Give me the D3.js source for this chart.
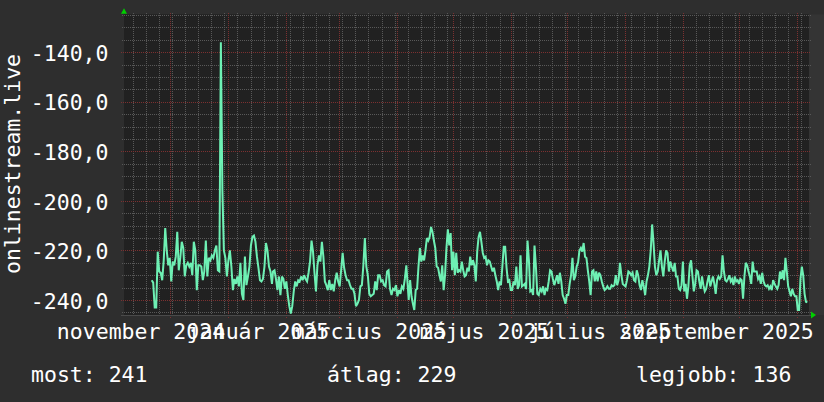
<!DOCTYPE html>
<html><head><meta charset="utf-8">
<script src="https://cdn.jsdelivr.net/npm/d3@7"></script>
<style>html,body{margin:0;padding:0;background:#2e2e2e;} svg{display:block}</style>
</head><body><svg id="c" width="824" height="402"></svg>
<script>
// ---------------- data ----------------
const seriesName = "onlinestream.live";
const timeDomain = ["2024-11-06T10:00Z", "2025-11-07T07:00Z"];
const valueDomain = [-246.05, -124.7];

const seg1Range = ["2024-11-21T05:05Z", "2025-01-24T11:00Z"];
const seg1 = [-232,-233,-243,-243,-220.5,-228.5,-229,-232,-224,-211,
  -220,-226,-223,-232.5,-224.5,-226,-222.5,-212.5,-228,-223,
  -216.5,-219,-230.5,-226,-225,-226.5,-225,-230,-216.5,-220,
  -236,-226,-226,-226.5,-232,-228.5,-216,-230.5,-223,-224,
  -222,-223,-220,-218,-228,-228.5,-136,-195.5,-220,-223,
  -230.5,-224,-220,-226.5,-236,-231.5,-233.5,-230.5,-234.5,-225,
  -237.5,-240,-222.5,-234,-230.5,-226.5,-218,-214.5,-214,-216.5,
  -222.5,-227,-232,-232.5,-231.5,-226.5,-217,-220,-226.5,-228.5,
  -233.5];

const seg2Range = ["2025-01-25T00:10Z", "2025-04-06T05:00Z"];
const seg2 = [-228.5,-228,-231.5,-236,-230.5,-238,-230.5,-231.5,-235.5,-232.5,
  -238,-242.5,-245.5,-242.5,-236.5,-232.5,-234.5,-232,-232.5,-230.5,
  -232,-230,-231.5,-232.5,-229,-224.5,-216,-220.5,-229,-236.5,
  -226,-222,-224.5,-216.5,-222.5,-232.5,-234,-236,-232,-236,
  -233.5,-236.5,-232,-229,-232.5,-234.5,-228,-221,-227,-230,
  -232,-232,-234,-235.5,-235.5,-237.5,-242.5,-241.5,-240,-234.5,
  -234,-226,-215,-226.5,-230,-237.5,-238.5,-238,-237.5,-232.5,
  -236,-230,-230,-232.5,-232,-234,-234.5,-228.5,-228,-235.5,
  -238,-235.5,-236,-234,-238.5,-236,-237.5,-234.5,-235.5,-231.5,
  -226];

const seg3Range = ["2025-04-07T11:40Z", "2025-06-15T22:00Z"];
const seg3 = [-240,-232,-238.5,-241.5,-244,-236,-235.5,-226.5,-219,-224.5,
  -222,-224,-220,-215,-216,-214.5,-210.5,-212.5,-216,-219,
  -226.5,-227,-230,-232.5,-226,-236,-230,-219,-211.5,-218,
  -213,-228,-220.5,-230,-221,-229,-228,-228.5,-224.5,-228,
  -230.5,-230,-227,-228.5,-222.5,-226,-224,-226,-232.5,-220.5,
  -214.5,-212.5,-216.5,-221,-223,-222.5,-226,-224,-224.5,-226.5,
  -228.5,-227,-230,-232.5,-236,-232.5,-234,-226.5,-218.5,-218.5,
  -227,-232.5,-232,-236,-236,-232.5,-234,-226.5,-235.5,-234,
  -222,-234.5,-234,-233.5,-235.5,-216,-224,-236.5,-236,-238,
  -218,-226.5,-237.5,-238];

const seg4Range = ["2025-06-16T18:40Z", "2025-08-25T23:00Z"];
const seg4 = [-235.5,-236.5,-234.5,-238,-235.5,-236,-232.5,-228,-228.5,-231.5,
  -234,-232,-230,-233.5,-229,-232.5,-238,-239.5,-241.5,-238,
  -238,-233.5,-230,-223,-232,-230.5,-226.5,-225,-220,-219,
  -220.5,-217,-222.5,-223,-228,-232.5,-238,-228.5,-228,-232.5,
  -228.5,-232.5,-229,-230,-232.5,-234.5,-236,-235.5,-234.5,-235.5,
  -235.5,-234,-234.5,-234,-230,-234,-232,-225,-230,-233.5,
  -234,-234.5,-232,-228.5,-229,-230,-229,-232,-232.5,-228,
  -230,-234,-236,-232,-234.5,-238,-232.5,-230,-226.5,-220,
  -209.5,-217,-226.5,-230,-228.5,-224,-220,-226.5,-230.5,-224.5,
  -220,-221,-228.5,-224.5,-226.5];

const seg5Range = ["2025-08-26T19:40Z", "2025-11-06T09:20Z"];
const seg5 = [-228.5,-225,-230.5,-230.5,-235.5,-236,-234,-224.5,-236.5,-233.5,
  -239.5,-234.5,-226,-224,-230.5,-236.5,-233.5,-228,-228.5,-232.5,
  -235.5,-230.5,-234,-236.5,-235.5,-232.5,-230,-234.5,-232.5,-230.5,
  -233.5,-237.5,-232,-230.5,-231.5,-230.5,-222,-228.5,-232,-232.5,
  -231.5,-230,-232.5,-231.5,-234,-230.5,-232.5,-232,-233.5,-231.5,
  -232,-239.5,-230.5,-225,-226,-228.5,-230.5,-233.5,-224.5,-228.5,
  -228.5,-228.5,-231.5,-230.5,-233.5,-229,-232.5,-234,-234.5,-234,
  -235.5,-234.5,-236,-232,-233.5,-234.5,-235.5,-234,-228.5,-231.5,
  -228,-232,-223,-228.5,-234.5,-236.5,-238.5,-235.5,-237.5,-238.5,
  -238.5,-244,-244,-231.5,-226.5,-230,-237.5,-240.7,-241];

const yTickValues = [-240, -220, -200, -180, -160, -140];
const xLabelDates = ["2024-11-15T12:00Z", "2025-01-17T00:00Z", "2025-03-17T12:00Z", "2025-05-18T00:00Z", "2025-07-18T12:00Z", "2025-09-19T00:00Z"];
const xLabelTexts = ["november 2024", "január 2025", "március 2025", "május 2025", "július 2025", "szeptember 2025"];
const legendNames = ["most:", "átlag:", "legjobb:"];
const legendValues = [241, 229, 136];

// ---------------- drawing ----------------
const W = 824, H = 402;
const L = 124, R = 809, T = 14.3, B = 315;
const FONT = "'DejaVu Sans Mono', monospace";
const FS = 21.5;

const svg = d3.select("#c");
svg.append("rect").attr("width", W).attr("height", H).attr("fill", "#2e2e2e");
svg.append("rect").attr("x", R).attr("y", T).attr("width", W - R).attr("height", B - T).attr("fill", "#343434");
svg.append("rect").attr("x", L).attr("y", T).attr("width", R - L).attr("height", B - T).attr("fill", "#212121");

const x = d3.scaleUtc().domain(timeDomain.map(d => new Date(d))).range([L, R]);
const y = d3.scaleLinear().domain(valueDomain).range([B, T]);

// grid
const g = svg.append("g").attr("shape-rendering", "crispEdges");
const minorCol = "#585858", majorCol = "#7c3030";
const [y0, y1] = valueDomain;
const hMinor = d3.range(Math.ceil(y0 / 5) * 5, y1, 5).filter(v => v % 20 !== 0);
const hMajor = d3.range(Math.ceil(y0 / 20) * 20, y1, 20);
g.selectAll(".hm").data(hMinor).join("line")
  .attr("x1", L - 2).attr("x2", R + 2)
  .attr("y1", d => Math.round(y(d)) + 0.5).attr("y2", d => Math.round(y(d)) + 0.5)
  .attr("stroke", minorCol).attr("stroke-dasharray", "1,1");
const weeks = d3.utcMonday.range(x.domain()[0], x.domain()[1]);
const months = d3.utcMonth.range(x.domain()[0], x.domain()[1]);
g.selectAll(".vm").data(weeks).join("line")
  .attr("x1", d => Math.round(x(d)) + 0.5).attr("x2", d => Math.round(x(d)) + 0.5)
  .attr("y1", T - 1).attr("y2", B + 2)
  .attr("stroke", minorCol).attr("stroke-dasharray", "1,1");
g.selectAll(".hM").data(hMajor).join("line")
  .attr("x1", L - 3).attr("x2", R + 2)
  .attr("y1", d => Math.round(y(d)) + 0.5).attr("y2", d => Math.round(y(d)) + 0.5)
  .attr("stroke", majorCol).attr("stroke-dasharray", "1,1");
g.selectAll(".vM").data(months).join("line")
  .attr("x1", d => Math.round(x(d)) + 0.5).attr("x2", d => Math.round(x(d)) + 0.5)
  .attr("y1", T - 1).attr("y2", B + 3)
  .attr("stroke", majorCol).attr("stroke-dasharray", "1,1");
// axis line
g.append("line").attr("x1", L - 3).attr("x2", R + 3).attr("y1", B + 0.5).attr("y2", B + 0.5).attr("stroke", "#4a4a4a");

// data
function segPoints(vals, range) {
  const t0 = new Date(range[0]).getTime(), t1 = new Date(range[1]).getTime();
  const n = vals.length;
  return vals.map((v, i) => ({ date: new Date(t0 + (t1 - t0) * i / (n - 1)), v }));
}
const pts = [].concat(
  segPoints(seg1, seg1Range), segPoints(seg2, seg2Range), segPoints(seg3, seg3Range),
  segPoints(seg4, seg4Range), segPoints(seg5, seg5Range));
const line = d3.line().x(d => x(d.date)).y(d => y(d.v));
svg.append("path").datum(pts).attr("d", line)
  .attr("fill", "none").attr("stroke", "#6ef0b4").attr("stroke-width", 2)
  .attr("stroke-linejoin", "miter").attr("stroke-miterlimit", 3);

// arrows
svg.append("path").attr("d", `M${L - 3},${T - 0.5} L${L},${T - 6} L${L + 3},${T - 0.5} Z`).attr("fill", "#00d000");
svg.append("path").attr("d", `M${R + 2},${B - 3.5} L${R + 7},${B} L${R + 2},${B + 3.5} Z`).attr("fill", "#00d000");

// text
const loc = d3.formatLocale({ decimal: ",", thousands: " ", grouping: [3], currency: ["", ""], minus: "-" });
const fmt = loc.format(".1f");
const txt = svg.append("g").attr("font-family", FONT).attr("font-size", FS).attr("fill", "#ffffff");
txt.selectAll(".yl").data(yTickValues).join("text")
  .attr("x", 108.5).attr("y", d => y(d) + 8.7).attr("text-anchor", "end").text(d => fmt(d));
txt.selectAll(".xl").data(xLabelDates).join("text")
  .attr("x", d => x(new Date(d))).attr("y", 338.7).attr("text-anchor", "middle")
  .text((d, i) => xLabelTexts[i]);
txt.append("text").attr("transform", "translate(19.5,164) rotate(-90)").attr("text-anchor", "middle").text(seriesName);
const legX = [31, 327, 636];
txt.selectAll(".lg").data(legendNames).join("text")
  .attr("x", (d, i) => legX[i]).attr("y", 381.7)
  .text((d, i) => d + " " + legendValues[i]);
</script></body></html>
